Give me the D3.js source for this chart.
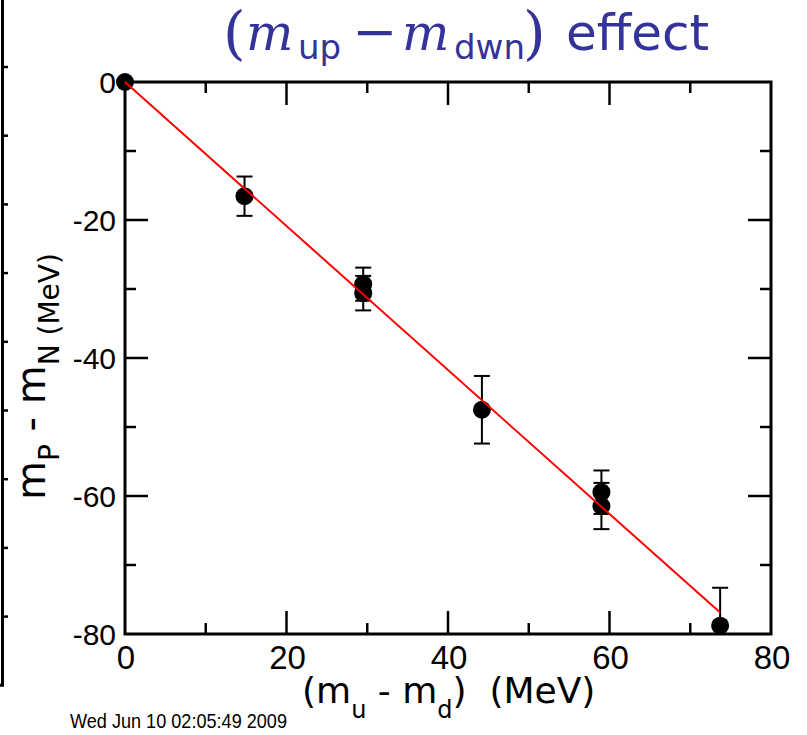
<!DOCTYPE html>
<meta charset="utf-8">
<head>
    <title></title>
    <script src="https://cdnjs.cloudflare.com/ajax/libs/d3/7.8.5/d3.min.js"></script>
</head>
<style>
    body{ margin:0; background:#fff; }
    text{ font-family: "Liberation Sans", Arial, sans-serif; }
    .ser{ font-family: "DejaVu Serif", "Liberation Serif", serif; }
    .san{ font-family: "DejaVu Sans", sans-serif; }
</style>
<svg width="807" height="735"></svg>

<script>
    // data
    var dmass  = [0, 14.8, 29.5, 29.5, 44.2, 59.0, 59.0, 73.7],
        split  = [0, -16.55, -29.3, -30.6, -47.5, -59.45, -61.45, -78.8],
        errs   = [0, 2.85, 2.4, 2.5, 4.9, 3.15, 3.35, 5.5],
        fitX   = [0, 73.7],
        fitY   = [0, -76.9],
        xTicks = [0, 20, 40, 60, 80],
        yTicks = [0, -20, -40, -60, -80],
        stamp  = 'Wed Jun 10 02:05:49 2009';

    var svg = d3.select('svg');

    var x = d3.scaleLinear().domain([0, 80]).range([125, 771]),
        y = d3.scaleLinear().domain([-80, 0]).range([634, 82]),
        major = 23,
        minor = 11;

    // frame of the neighbouring slide, cut off at the left edge
    var side = d3.scaleLinear().domain([0, 9]).range([67, 685.3]);
    svg.append('path')
        .attr('d', 'M2.5,0V' + side(9) + 'H0')
        .style('fill', 'none').style('stroke', '#000').style('stroke-width', 3);
    svg.append('g').selectAll('line').data(d3.range(0, 9)).enter().append('line')
        .attr('x1', 2).attr('x2', 8)
        .attr('y1', function(d){ return side(d); })
        .attr('y2', function(d){ return side(d); })
        .style('stroke', '#000').style('stroke-width', 2.5);

    svg.append('defs').append('clipPath').attr('id', 'plot')
        .append('rect')
        .attr('x', x(0)).attr('y', y(0))
        .attr('width', x(80) - x(0)).attr('height', y(-80) - y(0));

    // ticks inward on all four sides
    var tg = svg.append('g').style('stroke', '#000').style('stroke-width', 2.5);
    d3.range(10, 80, 10).forEach(function(v){
        var len = (v % 20 == 0) ? major : minor;
        tg.append('line').attr('x1', x(v)).attr('x2', x(v)).attr('y1', y(-80)).attr('y2', y(-80) - len);
        tg.append('line').attr('x1', x(v)).attr('x2', x(v)).attr('y1', y(0)).attr('y2', y(0) + len);
    });
    d3.range(-70, 0, 10).forEach(function(v){
        var len = (v % 20 == 0) ? major : minor;
        tg.append('line').attr('y1', y(v)).attr('y2', y(v)).attr('x1', x(0)).attr('x2', x(0) + len);
        tg.append('line').attr('y1', y(v)).attr('y2', y(v)).attr('x1', x(80)).attr('x2', x(80) - len);
    });

    svg.append('rect')
        .attr('x', x(0)).attr('y', y(0))
        .attr('width', x(80) - x(0)).attr('height', y(-80) - y(0))
        .style('fill', 'none').style('stroke', '#000').style('stroke-width', 3);

    // tick labels
    svg.append('g').selectAll('text').data(xTicks).enter().append('text')
        .attr('x', function(d){ return x(d) + 1; })
        .attr('y', 669)
        .attr('text-anchor', 'middle')
        .style('font-size', '33px')
        .text(function(d){ return d; });

    svg.append('g').selectAll('text').data(yTicks).enter().append('text')
        .attr('x', 116)
        .attr('y', function(d){ return y(d) + 11; })
        .attr('text-anchor', 'end')
        .style('font-size', '30px')
        .text(function(d){ return d; });

    // error bars
    var eb = svg.append('g').attr('clip-path', 'url(#plot)')
        .style('stroke', '#000').style('stroke-width', 2);
    dmass.forEach(function(d, i){
        if(!errs[i]) return;
        var top = y(split[i] + errs[i]), bot = y(split[i] - errs[i]);
        eb.append('line').attr('x1', x(d)).attr('x2', x(d)).attr('y1', top).attr('y2', bot);
        eb.append('line').attr('x1', x(d) - 8).attr('x2', x(d) + 8).attr('y1', top).attr('y2', top);
        eb.append('line').attr('x1', x(d) - 8).attr('x2', x(d) + 8).attr('y1', bot).attr('y2', bot);
    });

    svg.append('g').selectAll('circle').data(dmass).enter().append('circle')
        .attr('cx', function(d){ return x(d); })
        .attr('cy', function(d, i){ return y(split[i]); })
        .attr('r', 9)
        .style('fill', '#000');

    svg.append('line')
        .attr('x1', x(fitX[0])).attr('y1', y(fitY[0]))
        .attr('x2', x(fitX[1])).attr('y2', y(fitY[1]))
        .style('stroke', '#f00').style('stroke-width', 2);

    // title
    var title = svg.append('text').attr('y', 50).style('fill', '#333399');
    title.append('tspan').attr('class', 'ser').attr('x', 223).attr('dy', 3).style('font-size', '58px').style('font-weight', 300).text('(');
    title.append('tspan').attr('class', 'ser').attr('x', 246).attr('dy', -3).style('font-style', 'italic').style('font-size', '50px').text('m');
    title.append('tspan').attr('class', 'san').attr('x', 298).attr('dy', 9).style('font-size', '34px').text('up');
    title.append('tspan').attr('class', 'ser').attr('x', 352).attr('dy', -9).style('font-size', '54px').text('\u2212');
    title.append('tspan').attr('class', 'ser').attr('x', 402).style('font-style', 'italic').style('font-size', '50px').text('m');
    title.append('tspan').attr('class', 'san').attr('x', 454).attr('dy', 9).style('font-size', '34px').text('dwn');
    title.append('tspan').attr('class', 'ser').attr('x', 523).attr('dy', -6).style('font-size', '58px').text(')');
    title.append('tspan').attr('class', 'san').attr('x', 566).attr('dy', -3).style('font-size', '50px').text('effect');

    // axis titles
    var xl = svg.append('text').attr('class', 'san').attr('x', 302).attr('y', 703)
        .style('font-size', '36px');
    xl.append('tspan').text('(m');
    xl.append('tspan').attr('dy', 15).style('font-size', '24px').text('u');
    xl.append('tspan').attr('dy', -15).text(' - m');
    xl.append('tspan').attr('dy', 15).style('font-size', '24px').text('d');
    xl.append('tspan').attr('dy', -15).text(')\u00a0 (MeV)');

    var yl = svg.append('text').attr('class', 'san')
        .attr('transform', 'translate(45,500) rotate(-90)')
        .style('font-size', '40px');
    yl.append('tspan').text('m');
    yl.append('tspan').attr('dy', 14).style('font-size', '28px').text('P');
    yl.append('tspan').attr('dy', -14).text(' - m');
    yl.append('tspan').attr('dy', 14).style('font-size', '28px').text('N (MeV)');

    svg.append('text')
        .attr('x', 70).attr('y', 728)
        .attr('textLength', 217).attr('lengthAdjust', 'spacingAndGlyphs')
        .style('font-size', '21px')
        .text(stamp);
</script>
